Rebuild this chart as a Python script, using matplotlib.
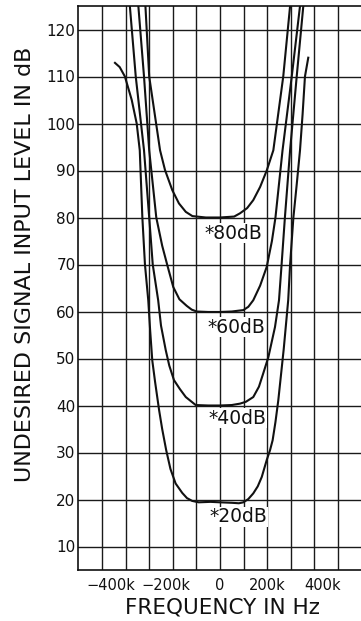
import matplotlib
matplotlib.use("Agg")
import matplotlib.pyplot as plt
from matplotlib.transforms import ScaledTranslation

# ---- data (frequency in kHz, level in dB) ----
c20_x = [-445, -425, -403, -374, -353, -340, -329, -318, -304, -296, -287, -275, -258, -245, -228, -210, -188, -160, -140, -118,
         -90, -40, 0, 50, 80, 99, 120, 141, 160, 177, 198, 212, 223, 235, 247, 270, 289, 297, 311, 325, 339, 350, 360, 374]
c20_y = [112.9, 112.0, 110.0, 105.0, 100.0, 94.3, 80.0, 70.0, 62.4, 56.0, 49.6, 45.0, 39.0, 35.0, 30.5, 26.5, 23.4, 21.4, 20.3, 19.7,
         19.4, 19.5, 19.4, 19.3, 19.2, 19.4, 20.1, 21.3, 22.8, 24.8, 28.4, 30.5, 32.6, 36.5, 41.1, 52.0, 62.4, 70.0, 80.0, 87.0, 94.3, 102.0, 110.0, 114.0]

c40_x = [-382, -357, -322, -300, -285, -262, -250, -230, -215, -195, -170, -145, -103, -50, 0, 50, 85, 110, 141, 165, 183, 205,
         233, 250, 261, 275, 297, 325, 353]
c40_y = [125.0, 110.0, 94.3, 80.0, 70.0, 62.4, 57.0, 51.8, 48.5, 45.4, 43.5, 41.8, 40.1, 40.0, 40.0, 40.1, 40.4, 40.8, 41.8, 44.0, 46.8, 50.3,
         56.7, 62.4, 70.0, 80.0, 94.3, 110.0, 125.0]

c60_x = [-346, -322, -300, -270, -245, -224, -198, -172, -141, -120, -99, -50, 0, 50, 99, 120, 141, 170, 198, 220, 235, 265, 304, 339]
c60_y = [125.0, 110.0, 94.3, 80.0, 74.0, 70.0, 65.2, 62.6, 61.2, 60.4, 60.0, 59.9, 59.9, 60.0, 60.3, 61.0, 62.4, 65.5, 69.5, 75.0, 80.0, 94.3, 110.0, 125.0]

c80_x = [-316, -300, -254, -233, -202, -174, -145, -117, -60, 0, 60, 85, 115, 141, 170, 198, 226, 268, 297]
c80_y = [125.0, 110.0, 94.3, 90.1, 85.8, 83.0, 81.2, 80.3, 80.0, 80.0, 80.2, 80.9, 82.0, 83.7, 86.5, 90.0, 94.3, 110.0, 125.0]

curve_labels = ["*20dB", "*40dB", "*60dB", "*80dB"]
y_ticks = [10, 20, 30, 40, 50, 60, 70, 80, 90, 100, 110, 120]
x_ticks = [-400, -200, 0, 200, 400]
x_tick_labels = ["\u2212400k", "\u2212200k", "0", "200k", "400k"]

# ---- layout ----
W, H = 361, 621
fig = plt.figure(figsize=(W / 100, H / 100), dpi=100)
ax = fig.add_axes([78.4 / W, 51 / H, 283.2 / W, 564 / H])
ax.set_xlim(-600, 600)
ax.set_ylim(5, 125)

grid_color = "#1a1a1a"
for gx in range(-500, 600, 100):
    ax.axvline(gx, color=grid_color, lw=1.0, zorder=1)
for gy in y_ticks:
    ax.axhline(gy, color=grid_color, lw=1.0, zorder=1)

curves = [(c20_x, c20_y), (c40_x, c40_y), (c60_x, c60_y), (c80_x, c80_y)]
for cx, cy in curves:
    ax.plot(cx, cy, color="#111111", lw=1.5, zorder=3, solid_joinstyle="round")

label_pos = [(76, 16.3), (72, 37.3), (68, 56.7), (55, 76.7)]
for txt, (lx, ly) in zip(curve_labels, label_pos):
    ax.text(lx, ly, txt, ha="center", va="center", fontsize=13.5, color="#111111",
            family="DejaVu Sans", zorder=4,
            bbox=dict(facecolor="white", edgecolor="none", pad=0.5))

ax.set_yticks(y_ticks)
ax.set_yticklabels([str(v) for v in y_ticks], fontsize=11, color="#111111")
ax.set_xticks(x_ticks)
ax.set_xticklabels(x_tick_labels, fontsize=10.5, color="#111111")
ax.tick_params(axis="y", length=0, pad=2)
ax.tick_params(axis="x", length=0, pad=6)

# printed tick labels are slightly displaced from their grid lines
label_shift_px = [-15, -7, 0, 0, 8]
for lab, dx in zip(ax.get_xticklabels(), label_shift_px):
    lab.set_transform(lab.get_transform() + ScaledTranslation(dx / 100, 0, fig.dpi_scale_trans))

for side in ["left", "bottom", "top"]:
    ax.spines[side].set_linewidth(1.2)
    ax.spines[side].set_color("#111111")
ax.spines["right"].set_visible(False)

fig.text(222.5 / W, 1 - 608 / H, "FREQUENCY IN Hz", ha="center", va="center", fontsize=15.5, color="#111111")
fig.text(25 / W, 1 - 264.5 / H, "UNDESIRED SIGNAL INPUT LEVEL IN dB", ha="center", va="center",
         rotation=90, fontsize=16, color="#111111")

fig.savefig("out.png", dpi=100, facecolor="white")
